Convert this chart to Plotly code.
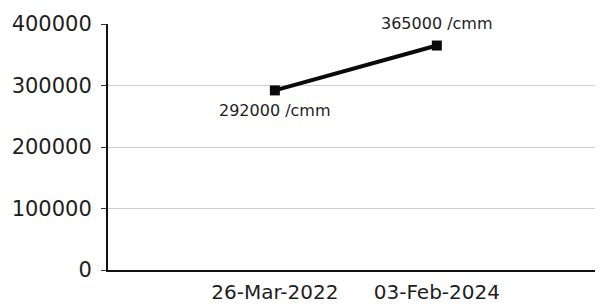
import plotly.graph_objects as go

categories = ["26-Mar-2022", "03-Feb-2024"]
values = [292000, 365000]
labels = ["292000 /cmm", "365000 /cmm"]
label_shift = [-20, 22]
y_ticks = [0, 100000, 200000, 300000, 400000]

FONT = "DejaVu Sans"
INK = "#1e1e1e"

fig = go.Figure()
fig.add_trace(go.Scatter(
    x=categories,
    y=values,
    mode="lines+markers",
    line=dict(color="#0a0a0a", width=4),
    marker=dict(symbol="square", size=10, color="#0a0a0a"),
    cliponaxis=False,
    hoverinfo="skip",
))
for c, v, t, s in zip(categories, values, labels, label_shift):
    fig.add_annotation(
        x=c, y=v, text=t, showarrow=False, yshift=s,
        font=dict(family=FONT, size=16, color=INK),
    )

fig.update_layout(
    width=603,
    height=308,
    margin=dict(l=100, r=0, t=16, b=46),
    paper_bgcolor="white",
    plot_bgcolor="white",
    showlegend=False,
    font=dict(family=FONT, color=INK),
)
fig.update_xaxes(
    type="category",
    range=[-1.03, 2.075],
    showgrid=False,
    zeroline=False,
    showline=True,
    linecolor="#111",
    linewidth=2,
    ticks="",
    tickfont=dict(family=FONT, size=20, color=INK),
    ticklabelstandoff=3,
)
fig.update_yaxes(
    range=[0, 400000],
    tickvals=y_ticks,
    ticktext=[str(v) for v in y_ticks],
    showgrid=True,
    gridcolor="#cfcfcf",
    gridwidth=1,
    zeroline=False,
    showline=True,
    linecolor="#111",
    linewidth=2,
    ticks="outside",
    ticklen=5,
    tickcolor="#333",
    tickfont=dict(family=FONT, size=21, color=INK),
    ticklabelstandoff=5,
)

fig.write_html("out.html")
